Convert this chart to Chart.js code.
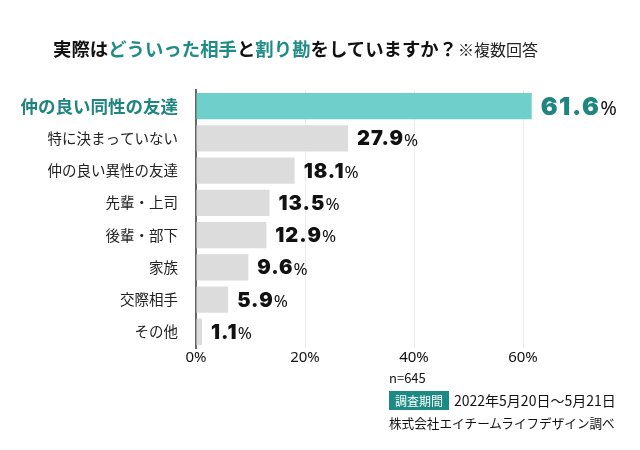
<!DOCTYPE html>
<html>
<head>
<meta charset="utf-8">
<script src="https://cdn.jsdelivr.net/npm/chart.js@4"></script>
<style>
  body { margin: 0; background: #fff; font-family: "Noto Sans CJK JP", "Noto Sans", sans-serif; }
  #wrap { position: relative; width: 640px; height: 450px; }
  #title { position: absolute; left: 53px; top: 35px; font-size: 18.4px; font-weight: bold; color: #111; white-space: nowrap; }
  #title .t { color: #1f8c87; }
  #title .note { font-size: 16px; font-weight: normal; color: #222; margin-left: 1px; }
  #foot { position: absolute; left: 389px; top: 367px; color: #111; line-height: 22px; white-space: nowrap; }
  #foot .n { font-size: 13px; }
  #foot .d { font-size: 14px; }
  #foot .c { font-size: 12.6px; }
  #foot .badge { background: #1e8a84; color: #fff; padding: 1px 6px; margin-right: 5px; font-size: 12px; }
  canvas { position: absolute; left: 0; top: 0; }
</style>
</head>
<body>
<div id="wrap">
  <canvas id="chart" width="640" height="450"></canvas>
  <div id="title">実際は<span class="t">どういった相手</span>と<span class="t">割り勘</span>をしていますか？<span class="note">※複数回答</span></div>
  <div id="foot">
    <div class="n">n=645</div>
    <div class="d"><span class="badge">調査期間</span>2022年5月20日～5月21日</div>
    <div class="c">株式会社エイチームライフデザイン調べ</div>
  </div>
</div>
<script>
const categories = ['仲の良い同性の友達', '特に決まっていない', '仲の良い異性の友達', '先輩・上司', '後輩・部下', '家族', '交際相手', 'その他'];
const values = [61.6, 27.9, 18.1, 13.5, 12.9, 9.6, 5.9, 1.1];
const xTicks = [0, 20, 40, 60];

const TEAL_TEXT = '#1f8580';
const barColors = values.map((v, i) => i === 0 ? '#6ecfcb' : '#dcdcdc');

// value labels: bold number + lighter "%"
const valueLabels = {
  id: 'valueLabels',
  afterDatasetsDraw(chart) {
    const ctx = chart.ctx;
    const meta = chart.getDatasetMeta(0);
    ctx.save();
    ctx.textBaseline = 'middle';
    ctx.textAlign = 'left';
    meta.data.forEach((bar, i) => {
      const num = values[i].toFixed(1);
      const first = i === 0;
      ctx.fillStyle = first ? TEAL_TEXT : '#111';
      ctx.font = `900 ${first ? 25 : 20}px Inter, "Noto Sans", sans-serif`;
      ctx.letterSpacing = first ? '1.5px' : '1px';
      const x = bar.x + 9;
      const y = bar.y + 1;
      ctx.fillText(num, x, y);
      const w = ctx.measureText(num).width;
      ctx.letterSpacing = '0px';
      ctx.font = `${first ? 20 : 17}px "Noto Sans", sans-serif`;
      ctx.fillStyle = '#111';
      ctx.fillText('%', x + w, y + (first ? 2 : 1.5));
    });
    ctx.restore();
  }
};

new Chart(document.getElementById('chart'), {
  type: 'bar',
  data: {
    labels: categories,
    datasets: [{ data: values, backgroundColor: barColors, categoryPercentage: 1, barPercentage: 0.82 }]
  },
  options: {
    indexAxis: 'y',
    responsive: false,
    animation: false,
    layout: { padding: { top: 90, bottom: 82, left: 0, right: 8 } },
    plugins: { legend: { display: false }, tooltip: { enabled: false } },
    scales: {
      x: {
        min: 0, max: 80,
        afterBuildTicks: s => { s.ticks = xTicks.concat([80]).map(v => ({ value: v })); },
        ticks: {
          padding: 1,
          color: '#111',
          font: { size: 15, family: '"Noto Sans", sans-serif' },
          callback: v => v === 80 ? '' : v + '%'
        },
        grid: {
          drawTicks: false,
          color: c => (c.tick && (c.tick.value === 0 || c.tick.value === 80)) ? 'rgba(0,0,0,0)' : '#ececec'
        },
        border: { display: false }
      },
      y: {
        afterFit: s => { s.width = 196; },
        ticks: {
          padding: 10,
          color: c => c.index === 0 ? TEAL_TEXT : '#222',
          font: c => c.index === 0
            ? { size: 17.5, weight: 'bold', family: '"Noto Sans CJK JP", sans-serif' }
            : { size: 14.5, family: '"Noto Sans CJK JP", sans-serif' }
        },
        grid: { display: false },
        border: { color: '#666', width: 2 }
      }
    }
  },
  plugins: [valueLabels]
});
</script>
</body>
</html>
